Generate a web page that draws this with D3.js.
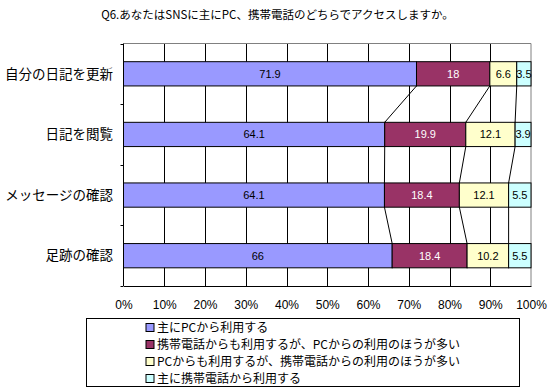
<!DOCTYPE html>
<html>
<head>
<meta charset="utf-8">
<script src="https://cdn.jsdelivr.net/npm/d3@7"></script>
<style>
  body { margin: 0; background: #fff; }
  text { font-family: "Liberation Sans", "Noto Sans CJK JP", sans-serif; }
  .jp { font-family: "Noto Sans CJK JP", sans-serif; }
</style>
</head>
<body>
<div id="container"></div>
<script>
const WIDTH = 549;
const HEIGHT = 392;
const PLOT = { left: 123.5, right: 531, top: 43.5, bottom: 286 };

const title = "Q6.あなたはSNSに主にPC、携帯電話のどちらでアクセスしますか。";
const categories = ["自分の日記を更新", "日記を閲覧", "メッセージの確認", "足跡の確認"];
const seriesNames = [
  "主にPCから利用する",
  "携帯電話からも利用するが、PCからの利用のほうが多い",
  "PCからも利用するが、携帯電話からの利用のほうが多い",
  "主に携帯電話から利用する"
];
const mainlyPC = [71.9, 64.1, 64.1, 66];
const morePC = [18, 19.9, 18.4, 18.4];
const moreMobile = [6.6, 12.1, 12.1, 10.2];
const mainlyMobile = [3.5, 3.9, 5.5, 5.5];
const tickValues = [0, 0.1, 0.2, 0.3, 0.4, 0.5, 0.6, 0.7, 0.8, 0.9, 1];

const colors = ["#9999FF", "#993366", "#FFFFCC", "#CCFFFF"];
const labelColors = ["#000", "#fff", "#000", "#000"];

const keys = ["s0", "s1", "s2", "s3"];
const rows = categories.map((c, i) => ({
  cat: c,
  s0: mainlyPC[i],
  s1: morePC[i],
  s2: moreMobile[i],
  s3: mainlyMobile[i]
}));

const stacked = d3.stack().keys(keys).offset(d3.stackOffsetExpand)(rows);

const svg = d3
  .select("#container")
  .append("svg")
  .attr("width", WIDTH)
  .attr("height", HEIGHT);

const x = d3.scaleLinear().domain([0, 1]).range([PLOT.left, PLOT.right]);
const y = d3
  .scaleBand()
  .domain(categories)
  .range([PLOT.top, PLOT.bottom])
  .paddingInner(0.6)
  .paddingOuter(0.3);

// title
svg
  .append("text")
  .attr("class", "jp")
  .attr("x", 277.5)
  .attr("y", 19)
  .attr("text-anchor", "middle")
  .style("font-size", "11.5px")
  .text(title);

// gridlines
svg
  .append("g")
  .selectAll("line")
  .data(tickValues.slice(1, -1))
  .enter()
  .append("line")
  .attr("x1", d => Math.round(x(d)) + 0.5)
  .attr("x2", d => Math.round(x(d)) + 0.5)
  .attr("y1", PLOT.top)
  .attr("y2", PLOT.bottom)
  .attr("stroke", "#000");

// plot border top/right gray
svg
  .append("path")
  .attr("d", `M${PLOT.left},${PLOT.top}H${PLOT.right}V${PLOT.bottom}`)
  .attr("fill", "none")
  .attr("stroke", "#808080");

// bars
const layer = svg
  .append("g")
  .selectAll("g")
  .data(stacked)
  .enter()
  .append("g")
  .attr("fill", (d, i) => colors[i]);

layer
  .selectAll("rect")
  .data(d => d)
  .enter()
  .append("rect")
  .attr("x", d => x(d[0]))
  .attr("width", d => x(d[1]) - x(d[0]))
  .attr("y", d => y(d.data.cat))
  .attr("height", y.bandwidth())
  .attr("stroke", "#000")
  .attr("stroke-width", 1);

// series lines between bars
const seriesLines = [];
for (let k = 0; k < keys.length - 1; k++) {
  for (let i = 0; i < categories.length - 1; i++) {
    seriesLines.push({
      x1: x(stacked[k][i][1]),
      y1: y(categories[i]) + y.bandwidth(),
      x2: x(stacked[k][i + 1][1]),
      y2: y(categories[i + 1])
    });
  }
}
svg
  .append("g")
  .selectAll("line")
  .data(seriesLines)
  .enter()
  .append("line")
  .attr("x1", d => d.x1)
  .attr("y1", d => d.y1)
  .attr("x2", d => d.x2)
  .attr("y2", d => d.y2)
  .attr("stroke", "#000");

// data labels
const raw = [mainlyPC, morePC, moreMobile, mainlyMobile];
stacked.forEach((s, k) => {
  svg
    .append("g")
    .selectAll("text")
    .data(s)
    .enter()
    .append("text")
    .attr("x", d => (x(d[0]) + x(d[1])) / 2)
    .attr("y", d => y(d.data.cat) + y.bandwidth() / 2)
    .attr("dy", "0.35em")
    .attr("text-anchor", "middle")
    .attr("fill", labelColors[k])
    .style("font-size", "11px")
    .text((d, i) => raw[k][i]);
});

// x axis
const xAxis = d3
  .axisBottom(x)
  .tickValues(tickValues)
  .tickSize(0)
  .tickPadding(14)
  .tickFormat(d3.format(".0%"));

svg
  .append("g")
  .attr("transform", `translate(0,${PLOT.bottom})`)
  .call(xAxis)
  .call(g => g.select(".domain").attr("stroke", "#000"))
  .call(g => g.selectAll("text").style("font-size", "12px").attr("fill", "#000"));

// y axis
const boundaries = d3.range(categories.length + 1).map(i => PLOT.top + (i * (PLOT.bottom - PLOT.top)) / categories.length);
const yAxis = svg.append("g");
yAxis
  .append("line")
  .attr("x1", PLOT.left)
  .attr("x2", PLOT.left)
  .attr("y1", PLOT.top)
  .attr("y2", PLOT.bottom)
  .attr("stroke", "#000");
yAxis
  .selectAll(".tick")
  .data(boundaries)
  .enter()
  .append("line")
  .attr("x1", PLOT.left - 3)
  .attr("x2", PLOT.left)
  .attr("y1", d => Math.round(d) + 0.5)
  .attr("y2", d => Math.round(d) + 0.5)
  .attr("stroke", "#000");
yAxis
  .selectAll("text")
  .data(categories)
  .enter()
  .append("text")
  .attr("class", "jp")
  .attr("x", 113)
  .attr("y", d => y(d) + y.bandwidth() / 2)
  .attr("dy", "0.35em")
  .attr("text-anchor", "end")
  .style("font-size", "13.5px")
  .text(d => d);

// legend
const legend = svg.append("g");
legend
  .append("rect")
  .attr("x", 86.5)
  .attr("y", 318.5)
  .attr("width", 433)
  .attr("height", 68)
  .attr("fill", "#fff")
  .attr("stroke", "#000");

const legendItems = legend
  .selectAll(".item")
  .data(seriesNames)
  .enter()
  .append("g")
  .attr("transform", (d, i) => `translate(146,${327.5 + i * 17})`);

legendItems
  .append("rect")
  .attr("x", 0)
  .attr("y", -4)
  .attr("width", 8)
  .attr("height", 8)
  .attr("fill", (d, i) => colors[i])
  .attr("stroke", "#000");

legendItems
  .append("text")
  .attr("class", "jp")
  .attr("x", 11)
  .attr("y", 0)
  .attr("dy", "0.35em")
  .style("font-size", "12px")
  .text(d => d);
</script>
</body>
</html>
